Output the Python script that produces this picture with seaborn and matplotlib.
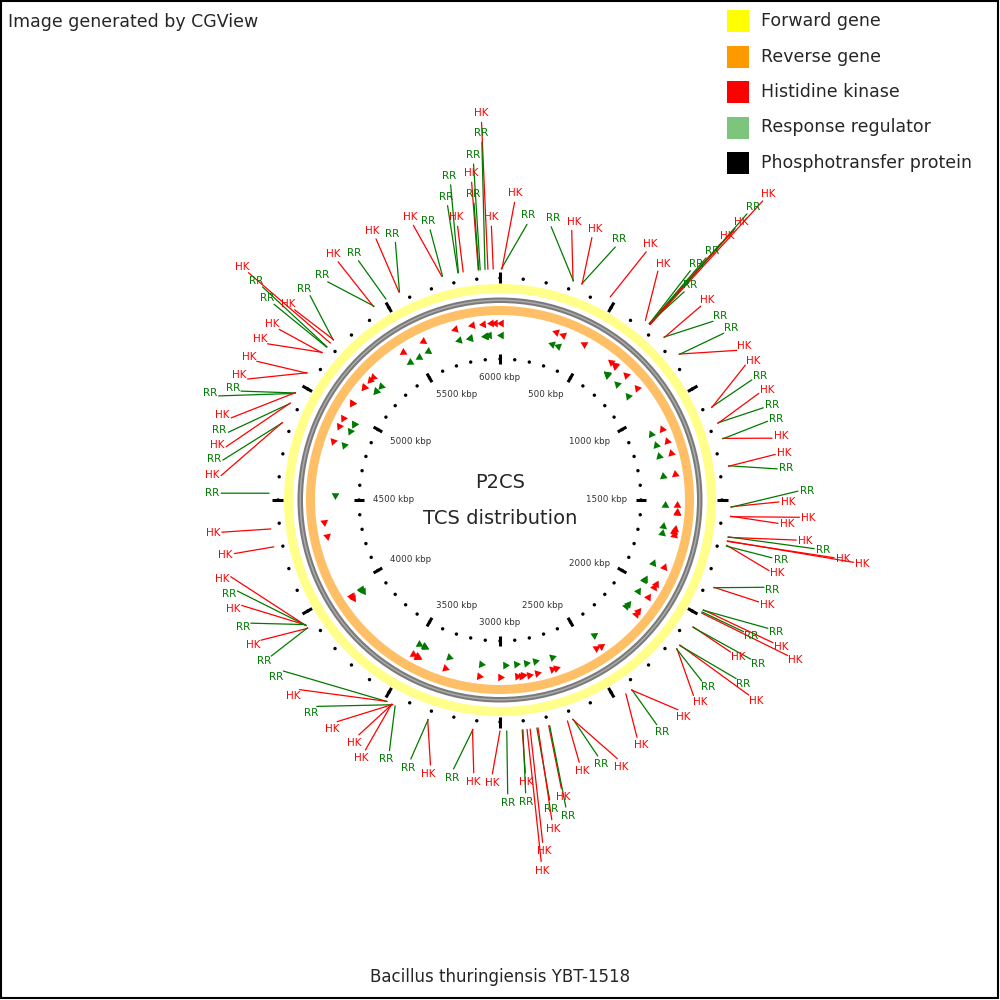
import numpy as np
import pandas as pd
import matplotlib
matplotlib.use("Agg")
import matplotlib.pyplot as plt
from matplotlib.patches import Wedge, Rectangle
import seaborn as sns

sns.set_theme(style="white")
plt.rcParams['font.family'] = ['DejaVu Sans']

GENOME_KBP = 6000
# TCS features: type and genome position (kbp)
tcs_type = ["HK","RR","RR","HK","RR","RR","RR","HK","HK","HK","RR","HK","RR","HK","RR","RR","RR","HK","RR","RR",
            "HK","HK","HK","HK","HK","RR","RR","HK","RR","HK","RR","HK","RR","HK","HK","HK","RR","HK","RR","HK",
            "RR","RR","HK","RR","HK","HK","HK","RR","RR","HK","RR","HK","HK","RR","HK","RR","HK","HK","RR","HK",
            "HK","RR","HK","RR","HK","HK","RR","HK","HK","RR","HK","RR","HK","RR","HK","HK","RR","RR","HK","RR",
            "HK","RR","HK","HK","RR","HK","HK","HK","HK","RR","RR","HK","HK","RR","RR","HK","RR","HK","HK","RR",
            "RR","HK","RR","RR","RR","HK","HK","RR","HK","HK","HK","RR","HK","HK","RR","RR","HK"]
tcs_pos_kbp = [5950,5938,5918,5910,5912,5827,5825,5847,5972,5757,5760,5568,5570,5447,5507,5450,5230,5213,5192,5190,
               5232,5160,5162,5055,5057,4960,4958,4962,4912,4914,4825,4827,4528,4380,4305,3950,3952,3954,3956,3938,
               3940,3487,3489,3460,3462,3464,3466,3450,3302,3304,3112,3114,3000,2972,2908,2905,2888,2875,2847,2842,
               2797,2793,2717,2693,2695,2450,2420,2422,2167,2169,2148,2150,2055,2057,1988,1973,1983,1975,1870,1872,
               1688,1692,1670,1672,1653,1655,1567,1569,1528,1530,1358,1360,1242,1244,1175,1177,1105,1107,847,849,
               753,755,670,671,672,673,674,675,676,650,475,345,347,307,309,5,8]
# label layout (angle clockwise from top in degrees, radius in px)
label_deg = [-2.8,-2.9,-4.5,-5.1,-5.0,-8.9,-10.1,-8.8,-1.8,-17.5,-14.5,-25.4,-22.1,-34.2,-30.6,-38.3,-42.9,-47.9,-48.1,-49.1,
             -47.2,-52.3,-56.1,-60.3,-64.4,-67.2,-69.7,-73,-76,-79,-81.8,-85,-88.6,-96.6,-101.4,-105.9,-109.1,-112.2,-116.3,-120.4,
             -124.3,-128.3,-133.4,-138.4,-143.7,-149,-151.7,-156.2,-161,-165.3,-170.2,-174.5,-178.4,178.5,174.7,175,173.5,172.9,170.6,170.8,
             168,167.9,163.2,159.1,155.6,150,145.1,139.7,135.3,131.9,128.1,127.1,123.4,122.4,118.4,117.6,118.4,115.6,111.5,108.3,
             104.7,102,100,99.8,98.8,97.7,94.8,93.3,90.4,88.3,83.6,80.6,77.2,73.6,70.7,67.6,64.5,61.2,57.7,53.3,
             50,46,41.5,39.7,40.4,40.7,40.9,40.8,41.3,34.6,30.5,24.5,19.3,14.9,10.6,5.6,2.8]
label_r = [387,367,346,328,307,328,308,286,283,297,288,298,287,297,287,287,288,348,328,308,
           289,288,289,289,289,290,309,290,289,288,289,289,288,289,280,289,287,288,287,286,
           286,285,285,285,284,283,293,283,283,283,282,283,283,303,283,303,373,354,313,333,
           304,323,283,283,293,283,283,284,284,280,325,305,285,306,336,317,286,306,287,287,
           287,287,368,348,327,308,288,309,288,307,288,288,288,288,288,289,288,289,289,288,
           287,288,287,307,327,348,368,387,407,287,297,287,287,288,287,286,307]

tick_kbp = list(range(0, 6000, 100))
major_kbp = list(range(500, 6001, 500))
legend_labels = ["Forward gene", "Reverse gene", "Histidine kinase", "Response regulator", "Phosphotransfer protein"]
legend_colors = ["#ffff00", "#ff9900", "#ff0000", "#7dc47d", "#000000"]
type_color = {"HK": "#ff0000", "RR": "#007a00"}

CX, CY = 500, 500
def xy(deg, r):
    a = np.deg2rad(deg)
    return CX + r*np.sin(a), CY - r*np.cos(a)
def k2deg(k):
    return k / GENOME_KBP * 360.0

fig = plt.figure(figsize=(10, 10), dpi=100)
ax = fig.add_axes([0, 0, 1, 1])
ax.set_xlim(0, 1000); ax.set_ylim(1000, 0); ax.axis("off")
ax.add_patch(Rectangle((1, 1), 997, 997, fill=False, ec="black", lw=1.5))

# gene rings
ax.add_patch(Wedge((CX, CY), 216, 0, 360, width=9, fc="#ffff8a", ec="none"))
ax.add_patch(Wedge((CX, CY), 194, 0, 360, width=9, fc="#ffbf66", ec="none"))
ax.add_patch(Wedge((CX, CY), 202.5, 0, 360, width=5.5, fc="#7a7a7a", ec="none"))
ax.add_patch(Wedge((CX, CY), 200.5, 0, 360, width=1.5, fc="#aaaaaa", ec="none"))

# tick rings
df_t = pd.DataFrame({"kbp": tick_kbp})
df_t["deg"] = df_t.kbp.map(k2deg)
for r in (141, 222):
    pts = df_t.deg.apply(lambda d: xy(d, r))
    tdf = pd.DataFrame({"x": [p[0] for p in pts], "y": [p[1] for p in pts]})
    sns.scatterplot(data=tdf, x="x", y="y", s=6, color="black", edgecolor="none", ax=ax, legend=False)
for k in major_kbp:
    d = k2deg(k)
    for r0, r1 in ((136, 146), (217, 228)):
        x0, y0 = xy(d, r0); x1, y1 = xy(d, r1)
        ax.plot([x0, x1], [y0, y1], color="black", lw=2.2, solid_capstyle="butt")
    tx, ty = xy(d, 127)
    s, c = np.sin(np.deg2rad(d)), np.cos(np.deg2rad(d))
    ha = "right" if s > 0.3 else ("left" if s < -0.3 else "center")
    va = "top" if c > 0.5 else ("bottom" if c < -0.5 else "center")
    ax.text(tx, ty, f"{k} kbp", fontsize=6.3, color="#333333", ha=ha, va=va)

# triangles and callouts
df = pd.DataFrame({"type": tcs_type, "kbp": tcs_pos_kbp, "ldeg": label_deg, "lr": label_r})
df["deg"] = df.kbp.map(k2deg)
for _, row in df.iterrows():
    col = type_color[row.type]
    rt = 177 if row.type == "HK" else 165
    px, py = xy(row.deg, rt)
    ax.plot(px, py, marker=(3, 0, 90 - row.deg), ms=6.5, color=col, mec="none")
    x0, y0 = xy(row.deg, 231)
    x1, y1 = xy(row.ldeg, row.lr - 9)
    ax.plot([x0, x1], [y0, y1], color=col, lw=0.9)
    lx, ly = xy(row.ldeg, row.lr)
    ax.text(lx, ly, row.type, color=col, fontsize=7.5, ha="center", va="center")

ax.text(500, 483, "P2CS", fontsize=14, ha="center", va="center")
ax.text(500, 518, "TCS distribution", fontsize=14, ha="center", va="center")
ax.text(8, 22, "Image generated by CGView", fontsize=12.5, ha="left", va="center")
ax.text(500, 977, "Bacillus thuringiensis YBT-1518", fontsize=12, ha="center", va="center")
for i, (lab, c) in enumerate(zip(legend_labels, legend_colors)):
    y = 21 + i*35.5
    ax.add_patch(Rectangle((727, y - 11), 22, 22, fc=c, ec="none"))
    ax.text(761, y, lab, fontsize=12.5, ha="left", va="center")

fig.savefig("out.png", dpi=100)
